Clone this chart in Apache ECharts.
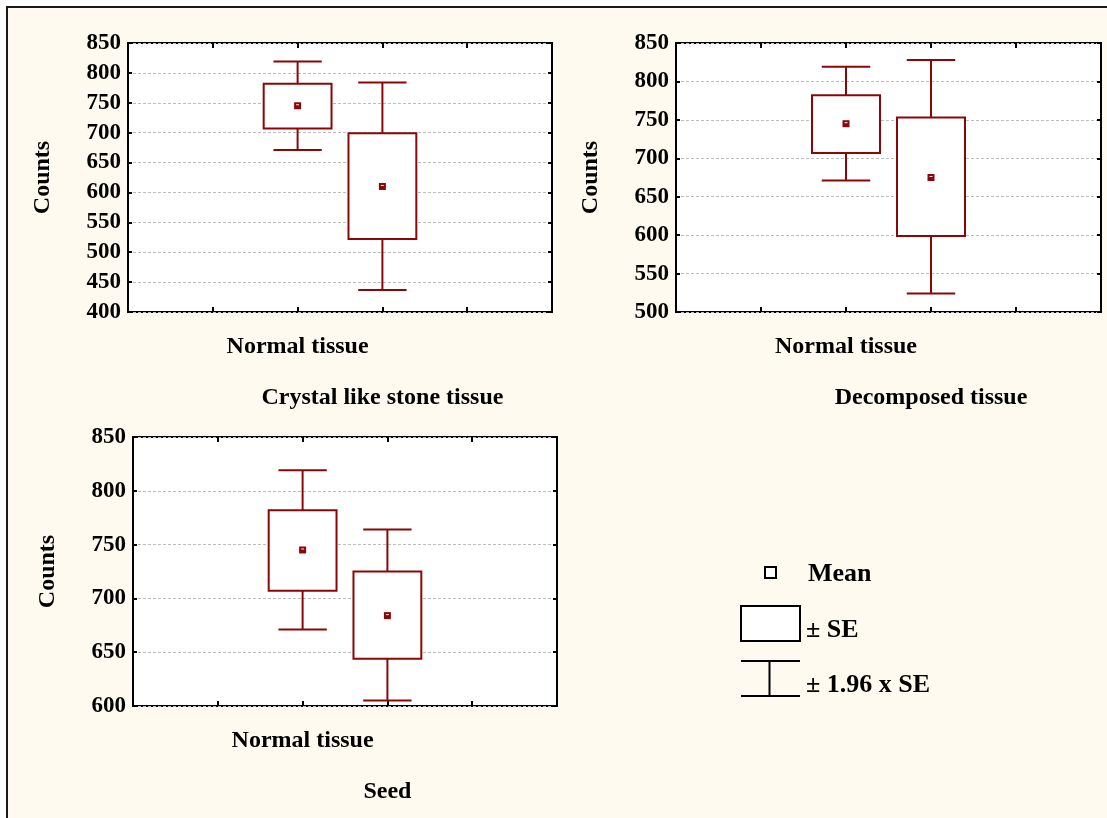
<!DOCTYPE html>
<html>
<head>
<meta charset="utf-8">
<script src="https://cdn.jsdelivr.net/npm/echarts@6/dist/echarts.min.js"></script>
<style>
  html, body { margin: 0; padding: 0; background: #ffffff; }
  #chart { width: 1107px; height: 818px; }
</style>
</head>
<body>
<div id="chart"></div>
<script>
// ---- data ----
const panel1Categories = ['Normal tissue', 'Crystal like stone tissue'];
const panel1Low  = [671, 437];
const panel1Q1   = [707, 522];
const panel1Mean = [745, 610];
const panel1Q3   = [782, 699];
const panel1High = [819, 784];
const panel1Ticks = [400, 850, 50];

const panel2Categories = ['Normal tissue', 'Decomposed tissue'];
const panel2Low  = [671, 524];
const panel2Q1   = [707, 599];
const panel2Mean = [745, 675];
const panel2Q3   = [782, 753];
const panel2High = [819, 828];
const panel2Ticks = [500, 850, 50];

const panel3Categories = ['Normal tissue', 'Seed'];
const panel3Low  = [671, 605];
const panel3Q1   = [707, 644];
const panel3Mean = [745, 684];
const panel3Q3   = [782, 725];
const panel3High = [819, 764];
const panel3Ticks = [600, 850, 50];

const legendLabels = ['Mean', '\u00B1 SE', '\u00B1 1.96 x SE'];
const yTitle = 'Counts';

// ---- styling ----
const FONT = 'Liberation Serif';
const RED = '#8b0707';
const CREAM = '#fefaef';

const panels = [
  { cats: panel1Categories, low: panel1Low, q1: panel1Q1, mean: panel1Mean, q3: panel1Q3, high: panel1High, ticks: panel1Ticks,
    grid: { left: 128, top: 43, width: 424, height: 269 } },
  { cats: panel2Categories, low: panel2Low, q1: panel2Q1, mean: panel2Mean, q3: panel2Q3, high: panel2High, ticks: panel2Ticks,
    grid: { left: 676, top: 43, width: 425, height: 269 } },
  { cats: panel3Categories, low: panel3Low, q1: panel3Q1, mean: panel3Mean, q3: panel3Q3, high: panel3High, ticks: panel3Ticks,
    grid: { left: 133, top: 437, width: 424, height: 269 } }
];

function slots(cats) {
  return ['s0', 's1', cats[0], cats[1], 's4', 's5'];
}

function renderBox(params, api) {
  const x = api.value(0);
  const pLow = api.coord([x, api.value(1)]);
  const pQ1 = api.coord([x, api.value(2)]);
  const pMean = api.coord([x, api.value(3)]);
  const pQ3 = api.coord([x, api.value(4)]);
  const pHigh = api.coord([x, api.value(5)]);
  const band = api.size([1, 0])[0];
  const bw = band * 0.8;
  const cw = band * 0.57;
  const cx = pMean[0];
  const ls = { stroke: RED, lineWidth: 2, fill: null };
  return {
    type: 'group',
    children: [
      { type: 'line', shape: { x1: cx, y1: pQ3[1], x2: cx, y2: pHigh[1] }, style: ls },
      { type: 'line', shape: { x1: cx, y1: pLow[1], x2: cx, y2: pQ1[1] }, style: ls },
      { type: 'line', shape: { x1: cx - cw / 2, y1: pHigh[1], x2: cx + cw / 2, y2: pHigh[1] }, style: ls },
      { type: 'line', shape: { x1: cx - cw / 2, y1: pLow[1], x2: cx + cw / 2, y2: pLow[1] }, style: ls },
      { type: 'rect', shape: { x: cx - bw / 2, y: pQ3[1], width: bw, height: pQ1[1] - pQ3[1] },
        style: { stroke: RED, lineWidth: 2, fill: '#ffffff' } },
      { type: 'rect', shape: { x: cx - 3.5, y: pMean[1] - 3.5, width: 7, height: 7 }, style: { fill: RED } },
      { type: 'rect', shape: { x: cx - 1.5, y: pMean[1] - 1.5, width: 3, height: 1 }, style: { fill: '#ffe8e8' } }
    ]
  };
}

const grids = [], xAxes = [], yAxes = [], series = [];
panels.forEach((p, i) => {
  grids.push(Object.assign({
    show: true, backgroundColor: '#ffffff', borderColor: '#000000', borderWidth: 2,
    containLabel: false, outerBoundsMode: 'none'
  }, p.grid));
  const xData = slots(p.cats);
  xAxes.push({
    type: 'category', gridIndex: i, data: xData, boundaryGap: false, position: 'bottom',
    axisLine: { show: false },
    axisTick: { show: true, inside: true, length: 5, interval: 0, lineStyle: { color: '#000', width: 2 } },
    axisLabel: {
      show: true, interval: 0, margin: 13,
      formatter: function (value, index) {
        if (index === 2) return '{a|' + value + '}';
        if (index === 3) return '{g| }\n{b|' + value + '}';
        return '';
      },
      rich: {
        a: { fontFamily: FONT, fontSize: 24, fontWeight: 'bold', color: '#000', lineHeight: 44 },
        g: { fontSize: 2, lineHeight: 51 },
        b: { fontFamily: FONT, fontSize: 24, fontWeight: 'bold', color: '#000', lineHeight: 44 }
      }
    },
    splitLine: { show: false }
  });
  xAxes.push({
    type: 'category', gridIndex: i, data: xData, boundaryGap: false, position: 'top',
    axisLine: { show: false },
    axisTick: { show: true, inside: true, length: 5, interval: 0, lineStyle: { color: '#000', width: 2 } },
    axisLabel: { show: false },
    splitLine: { show: false }
  });
  yAxes.push({
    type: 'value', gridIndex: i, min: p.ticks[0], max: p.ticks[1], interval: p.ticks[2], position: 'left',
    name: yTitle, nameLocation: 'middle', nameGap: 73,
    nameTextStyle: { fontFamily: FONT, fontSize: 24, fontWeight: 'bold', color: '#000' },
    axisLine: { show: false },
    axisTick: { show: true, inside: true, length: 4, lineStyle: { color: '#000', width: 2 } },
    axisLabel: { fontFamily: FONT, fontSize: 23, fontWeight: 'bold', color: '#000', margin: 7 },
    splitLine: { show: true, lineStyle: { color: '#bdbdbd', width: 1, type: [3, 2] } }
  });
  yAxes.push({
    type: 'value', gridIndex: i, min: p.ticks[0], max: p.ticks[1], interval: p.ticks[2], position: 'right',
    axisLine: { show: false },
    axisTick: { show: true, inside: true, length: 4, lineStyle: { color: '#000', width: 2 } },
    axisLabel: { show: false },
    splitLine: { show: false }
  });
  const data = p.cats.map((c, k) => [c, p.low[k], p.q1[k], p.mean[k], p.q3[k], p.high[k]]);
  series.push({
    type: 'custom', xAxisIndex: i * 2, yAxisIndex: i * 2, renderItem: renderBox,
    encode: { x: 0, y: [1, 2, 3, 4, 5] }, data: data, clip: false, z: 5
  });
});

const textStyle = { fontFamily: FONT, fontSize: 26, fontWeight: 'bold', fill: '#000', verticalAlign: 'middle' };

const option = {
  backgroundColor: '#ffffff',
  animation: false,
  grid: grids,
  xAxis: xAxes,
  yAxis: yAxes,
  series: series,
  graphic: [
    { type: 'rect', z: -10, silent: true, shape: { x: 7, y: 7, width: 1130, height: 840 },
      style: { fill: CREAM, stroke: '#1a1a1a', lineWidth: 2 } },
    { type: 'rect', z: 10, shape: { x: 765, y: 567, width: 11, height: 11 }, style: { fill: '#fff', stroke: '#000', lineWidth: 2 } },
    { type: 'text', z: 10, x: 808, y: 574, style: Object.assign({ text: legendLabels[0] }, textStyle) },
    { type: 'rect', z: 10, shape: { x: 741, y: 606, width: 59, height: 35 }, style: { fill: '#fff', stroke: '#000', lineWidth: 2 } },
    { type: 'text', z: 10, x: 806, y: 630, style: Object.assign({ text: legendLabels[1] }, textStyle) },
    { type: 'line', z: 10, shape: { x1: 741, y1: 661, x2: 800, y2: 661 }, style: { stroke: '#000', lineWidth: 2 } },
    { type: 'line', z: 10, shape: { x1: 741, y1: 696, x2: 800, y2: 696 }, style: { stroke: '#000', lineWidth: 2 } },
    { type: 'line', z: 10, shape: { x1: 769.5, y1: 661, x2: 769.5, y2: 696 }, style: { stroke: '#000', lineWidth: 2 } },
    { type: 'text', z: 10, x: 806, y: 685, style: Object.assign({ text: legendLabels[2] }, textStyle) }
  ]
};

const chart = echarts.init(document.getElementById('chart'), null, { renderer: 'canvas' });
chart.setOption(option);
</script>
</body>
</html>
